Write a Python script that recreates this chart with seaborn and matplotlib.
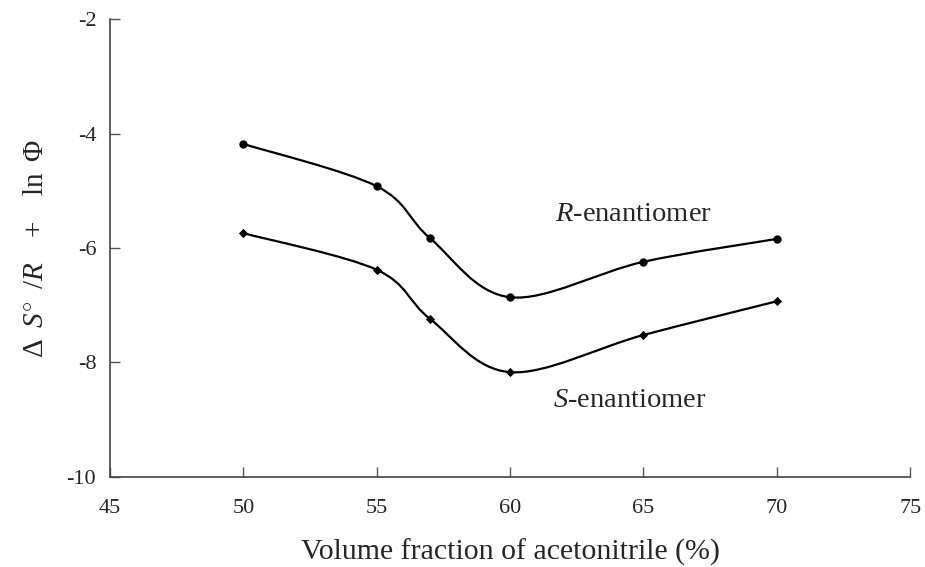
import numpy as np
import pandas as pd
import seaborn as sns
import matplotlib.pyplot as plt
from matplotlib.path import Path
from matplotlib.patches import PathPatch

# volume fraction of acetonitrile (%)
fraction = [50, 55, 57, 60, 65, 70]
# entropy term for each enantiomer
r_values = [-4.18, -4.92, -5.83, -6.86, -6.24, -5.84]
s_values = [-5.74, -6.38, -7.24, -8.17, -7.52, -6.93]

xticks = [45, 50, 55, 60, 65, 70, 75]
yticks = [-10, -8, -6, -4, -2]

df = pd.DataFrame({
    'fraction': fraction * 2,
    'value': r_values + s_values,
    'enantiomer': ['R'] * len(fraction) + ['S'] * len(fraction),
})

sns.set_style('ticks')
plt.rcParams['font.family'] = ['Liberation Serif', 'DejaVu Serif']
plt.rcParams['mathtext.fontset'] = 'custom'
plt.rcParams['mathtext.rm'] = 'Liberation Serif'
plt.rcParams['mathtext.it'] = 'Liberation Serif:italic'
plt.rcParams['axes.unicode_minus'] = False
plt.rcParams['xtick.direction'] = 'in'
plt.rcParams['ytick.direction'] = 'in'


def smooth_path(xs, ys):
    # excel-like smoothed line: cubic bezier segments with catmull-rom control points
    pts = np.column_stack([xs, ys]).astype(float)
    verts = [pts[0]]
    codes = [Path.MOVETO]
    n = len(pts)
    for i in range(n - 1):
        p0 = pts[i - 1] if i > 0 else pts[i]
        p1 = pts[i]
        p2 = pts[i + 1]
        p3 = pts[i + 2] if i + 2 < n else pts[i + 1]
        c1 = p1 + (p2 - p0) / 6
        c2 = p2 - (p3 - p1) / 6
        verts += [c1, c2, p2]
        codes += [Path.CURVE4] * 3
    return Path(verts, codes)


fig = plt.figure(figsize=(9.25, 5.67), dpi=100)
ax = fig.add_axes([0.119, 0.159, 0.865, 0.807])

for vals in (r_values, s_values):
    ax.add_patch(PathPatch(smooth_path(fraction, vals), facecolor='none',
                           edgecolor='black', lw=1.6, zorder=2))

sns.scatterplot(data=df[df.enantiomer == 'R'], x='fraction', y='value', marker='o',
                color='black', s=36, linewidth=0, legend=False, ax=ax, zorder=3)
sns.scatterplot(data=df[df.enantiomer == 'S'], x='fraction', y='value', marker='D',
                color='black', s=22, linewidth=0, legend=False, ax=ax, zorder=3)

ax.text(61.7, -5.41, r'$R$-enantiomer', fontsize=20.5, va='center', ha='left')
ax.text(61.6, -8.66, r'$S$-enantiomer', fontsize=20.5, va='center', ha='left')

ax.set_xlim(45, 75)
ax.set_ylim(-10, -2)
ax.set_xticks(xticks)
ax.set_yticks(yticks)
ax.tick_params(direction='in', length=7, width=1, color='#555555', labelsize=16)
ax.tick_params(axis='x', pad=16)
ax.tick_params(axis='y', pad=10)
for side in ('left', 'bottom'):
    ax.spines[side].set_color('#444444')
    ax.spines[side].set_linewidth(1.2)
sns.despine(ax=ax)

ax.set_xlabel('Volume fraction of acetonitrile (%)', fontsize=21.5, labelpad=15)
ax.set_ylabel(r'$\Delta\;\;S^{\circ}\;\;/R\quad+\quad\mathrm{ln}\;\;\Phi$', fontsize=21, labelpad=13)

fig.savefig('out.png', dpi=100)
